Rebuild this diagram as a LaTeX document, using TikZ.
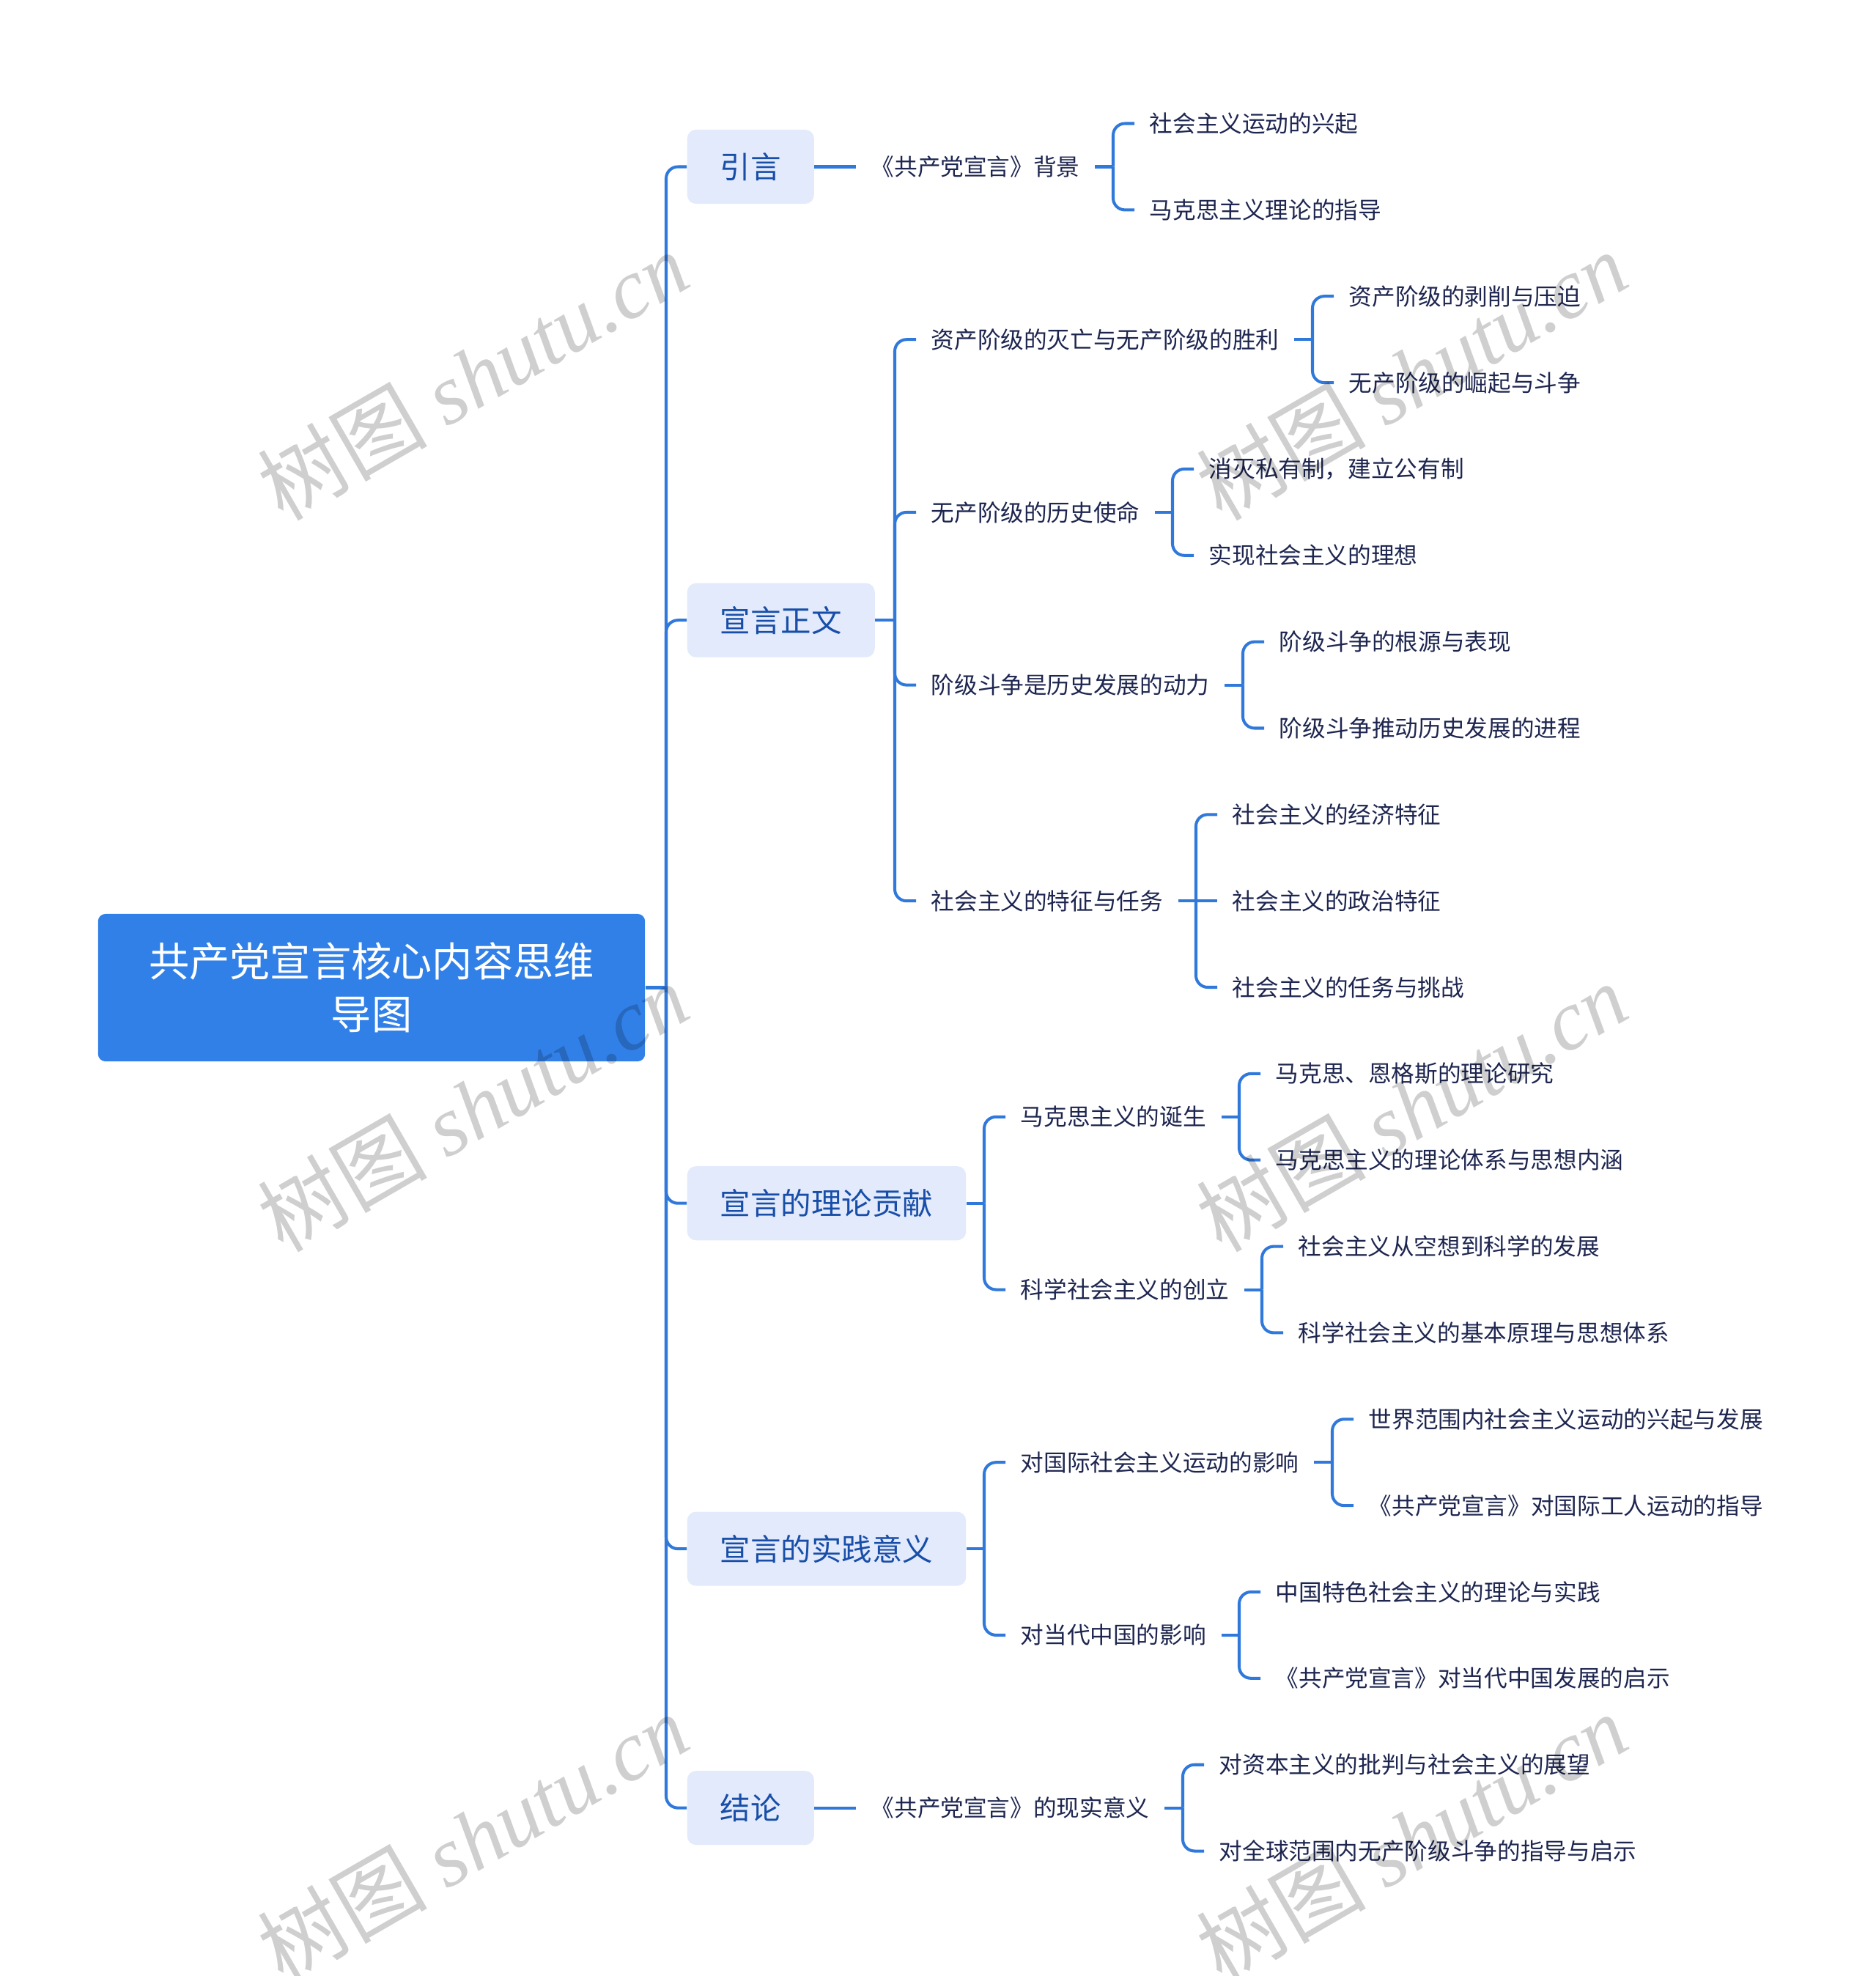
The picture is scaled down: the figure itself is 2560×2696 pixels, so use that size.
\documentclass[tikz,border=0pt]{standalone}
\usepackage{fontspec}
\newfontfamily\cjk{Noto Sans CJK SC}
\newfontfamily\serifmarca{Liberation Serif}

\definecolor{azulraiz}{RGB}{49,128,232}
\definecolor{azulclaro}{RGB}{226,234,252}
\definecolor{azultexto}{RGB}{24,78,168}
\definecolor{azullinha}{RGB}{48,121,219}
\definecolor{textoescuro}{RGB}{30,38,80}

\tikzset{
    raiz/.style={fill=azulraiz, text=white, rounded corners=0.1cm, minimum width=7.46cm,
        minimum height=2.01cm, align=center, font=\cjk\fontsize{15.7pt}{20.5pt}\selectfont},
    tema/.style={fill=azulclaro, text=azultexto, rounded corners=0.12cm, anchor=west,
        minimum height=1.01cm, inner xsep=0.45cm, inner ysep=0pt,
        font=\cjk\fontsize{11.8pt}{14pt}\selectfont},
    topico/.style={text=textoescuro, anchor=west, inner xsep=0.2cm, inner ysep=0.08cm,
        font=\cjk\fontsize{9pt}{11pt}\selectfont},
    ligacao/.style={draw=azullinha, line width=1.15pt, rounded corners=0.16cm},
    marca/.style={text=black, text opacity=0.19, rotate=30,
        font=\cjk\fontsize{33pt}{36pt}\selectfont}
}

\begin{document}
\begin{tikzpicture}[x=0.01cm, y=-0.01cm]
        % 1. AREA (mesmas proporcoes da imagem, em px)
        \useasboundingbox (0,0) rectangle (2560,2696);

        % 2. RAIZ E TEMAS
        \node[raiz] (raiz) at (507,1347.5) {共产党宣言核心内容思维\\导图};

        \node[tema] (intro) at (937,227.5) {引言};
        \node[tema] (texto) at (937,846.2) {宣言正文};
        \node[tema] (teoria) at (937,1641.7) {宣言的理论贡献};
        \node[tema] (pratica) at (937,2113.1) {宣言的实践意义};
        \node[tema] (conclusao) at (937,2466.6) {结论};

        % tronco
        \coordinate (jr) at (909,1347.5);
        \draw[ligacao] (raiz.east) -- (jr);
        \draw[ligacao] (jr) |- (intro.west);
        \draw[ligacao] (jr) |- (texto.west);
        \draw[ligacao] (jr) |- (teoria.west);
        \draw[ligacao] (jr) |- (pratica.west);
        \draw[ligacao] (jr) |- (conclusao.west);

        % ==========================================
        % 3. SEGUNDO NIVEL
        % ==========================================
        \node[topico] (fundo) at (1168,227.5) {《共产党宣言》背景};
        \draw[ligacao] (intro.east) -- (fundo.west);

        \node[topico] (queda) at (1250,463.2) {资产阶级的灭亡与无产阶级的胜利};
        \node[topico] (missao) at (1250,698.9) {无产阶级的历史使命};
        \node[topico] (luta) at (1250,934.6) {阶级斗争是历史发展的动力};
        \node[topico] (socialismo) at (1250,1229.2) {社会主义的特征与任务};
        \coordinate (jt) at (1221,846.2);
        \draw[ligacao] (texto.east) -- (jt);
        \draw[ligacao] (jt) |- (queda.west);
        \draw[ligacao] (jt) |- (missao.west);
        \draw[ligacao] (jt) |- (luta.west);
        \draw[ligacao] (jt) |- (socialismo.west);

        \node[topico] (nascimento) at (1372,1523.8) {马克思主义的诞生};
        \node[topico] (fundacao) at (1372,1759.5) {科学社会主义的创立};
        \coordinate (jc) at (1343,1641.7);
        \draw[ligacao] (teoria.east) -- (jc);
        \draw[ligacao] (jc) |- (nascimento.west);
        \draw[ligacao] (jc) |- (fundacao.west);

        \node[topico] (mundo) at (1372,1995.2) {对国际社会主义运动的影响};
        \node[topico] (china) at (1372,2230.9) {对当代中国的影响};
        \coordinate (jp) at (1343,2113.1);
        \draw[ligacao] (pratica.east) -- (jp);
        \draw[ligacao] (jp) |- (mundo.west);
        \draw[ligacao] (jp) |- (china.west);

        \node[topico] (atual) at (1168,2466.6) {《共产党宣言》的现实意义};
        \draw[ligacao] (conclusao.east) -- (atual.west);

        % ==========================================
        % 4. TERCEIRO NIVEL
        % ==========================================
        \node[topico] (f1) at (1548,168.5) {社会主义运动的兴起};
        \node[topico] (f2) at (1548,286.4) {马克思主义理论的指导};
        \coordinate (jf) at (1519,227.5);
        \draw[ligacao] (fundo.east) -- (jf);
        \draw[ligacao] (jf) |- (f1.west);
        \draw[ligacao] (jf) |- (f2.west);

        \node[topico] (q1) at (1820,404.2) {资产阶级的剥削与压迫};
        \node[topico] (q2) at (1820,522.1) {无产阶级的崛起与斗争};
        \coordinate (jq) at (1791,463.2);
        \draw[ligacao] (queda.east) -- (jq);
        \draw[ligacao] (jq) |- (q1.west);
        \draw[ligacao] (jq) |- (q2.west);

        \node[topico] (m1) at (1629,639.9) {消灭私有制，建立公有制};
        \node[topico] (m2) at (1629,757.8) {实现社会主义的理想};
        \coordinate (jm) at (1600,698.9);
        \draw[ligacao] (missao.east) -- (jm);
        \draw[ligacao] (jm) |- (m1.west);
        \draw[ligacao] (jm) |- (m2.west);

        \node[topico] (l1) at (1725,875.6) {阶级斗争的根源与表现};
        \node[topico] (l2) at (1725,993.5) {阶级斗争推动历史发展的进程};
        \coordinate (jl) at (1696,934.6);
        \draw[ligacao] (luta.east) -- (jl);
        \draw[ligacao] (jl) |- (l1.west);
        \draw[ligacao] (jl) |- (l2.west);

        \node[topico] (s1) at (1661,1111.3) {社会主义的经济特征};
        \node[topico] (s2) at (1661,1229.2) {社会主义的政治特征};
        \node[topico] (s3) at (1661,1347.0) {社会主义的任务与挑战};
        \coordinate (js) at (1632,1229.2);
        \draw[ligacao] (socialismo.east) -- (js);
        \draw[ligacao] (js) |- (s1.west);
        \draw[ligacao] (js) -- (s2.west);
        \draw[ligacao] (js) |- (s3.west);

        \node[topico] (n1) at (1720,1464.9) {马克思、恩格斯的理论研究};
        \node[topico] (n2) at (1720,1582.7) {马克思主义的理论体系与思想内涵};
        \coordinate (jn) at (1691,1523.8);
        \draw[ligacao] (nascimento.east) -- (jn);
        \draw[ligacao] (jn) |- (n1.west);
        \draw[ligacao] (jn) |- (n2.west);

        \node[topico] (c1) at (1751,1700.6) {社会主义从空想到科学的发展};
        \node[topico] (c2) at (1751,1818.4) {科学社会主义的基本原理与思想体系};
        \coordinate (jcs) at (1722,1759.5);
        \draw[ligacao] (fundacao.east) -- (jcs);
        \draw[ligacao] (jcs) |- (c1.west);
        \draw[ligacao] (jcs) |- (c2.west);

        \node[topico] (w1) at (1847,1936.3) {世界范围内社会主义运动的兴起与发展};
        \node[topico] (w2) at (1847,2054.1) {《共产党宣言》对国际工人运动的指导};
        \coordinate (jw) at (1818,1995.2);
        \draw[ligacao] (mundo.east) -- (jw);
        \draw[ligacao] (jw) |- (w1.west);
        \draw[ligacao] (jw) |- (w2.west);

        \node[topico] (h1) at (1720,2172.0) {中国特色社会主义的理论与实践};
        \node[topico] (h2) at (1720,2289.8) {《共产党宣言》对当代中国发展的启示};
        \coordinate (jh) at (1691,2230.9);
        \draw[ligacao] (china.east) -- (jh);
        \draw[ligacao] (jh) |- (h1.west);
        \draw[ligacao] (jh) |- (h2.west);

        \node[topico] (a1) at (1643,2407.7) {对资本主义的批判与社会主义的展望};
        \node[topico] (a2) at (1643,2525.5) {对全球范围内无产阶级斗争的指导与启示};
        \coordinate (ja) at (1614,2466.6);
        \draw[ligacao] (atual.east) -- (ja);
        \draw[ligacao] (ja) |- (a1.west);
        \draw[ligacao] (ja) |- (a2.west);

        % 5. MARCAS D'AGUA
        \node[marca] (wm1) at (645,512) {树图 {\serifmarca\itshape shutu.cn}};
        \node[marca] (wm2) at (1926,512) {树图 {\serifmarca\itshape shutu.cn}};
        \node[marca] (wm3) at (645,1510) {树图 {\serifmarca\itshape shutu.cn}};
        \node[marca] (wm4) at (1926,1510) {树图 {\serifmarca\itshape shutu.cn}};
        \node[marca] (wm5) at (645,2507) {树图 {\serifmarca\itshape shutu.cn}};
        \node[marca] (wm6) at (1926,2507) {树图 {\serifmarca\itshape shutu.cn}};
    \end{tikzpicture}
\end{document}
